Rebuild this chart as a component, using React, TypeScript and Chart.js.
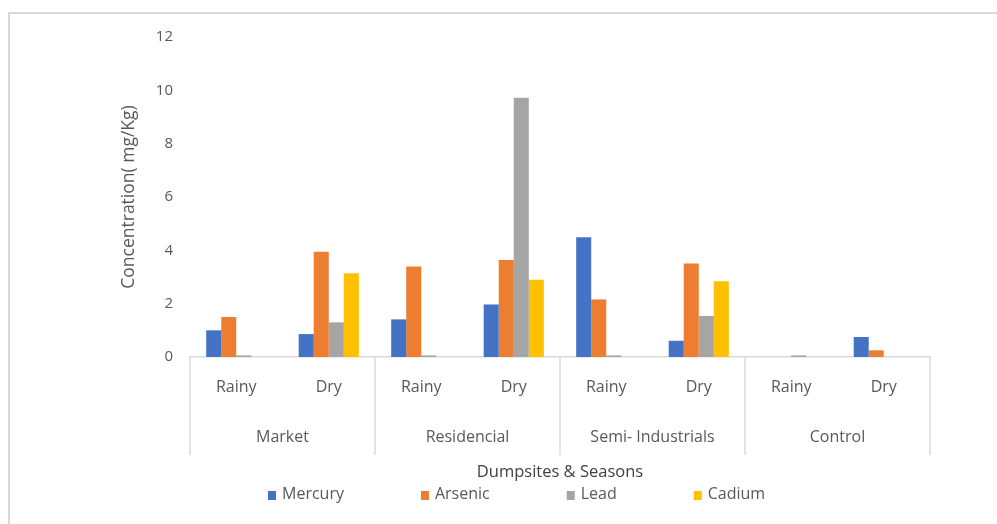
import { useEffect, useRef } from 'react';
import { Chart, registerables } from 'chart.js';

Chart.register(...registerables);

// Dumpsites (outer axis row) and sampling seasons (inner axis row)
const sites = ['Market', 'Residencial', 'Semi- Industrials', 'Control'];
const seasons = ['Rainy', 'Dry'];
const categories = sites.flatMap(() => seasons);

// Heavy metal concentration (mg/Kg), ordered Market Rainy, Market Dry, Residencial Rainy, ...
const mercury = [1.0, 0.86, 1.41, 1.97, 4.49, 0.61, 0, 0.75];
const arsenic = [1.5, 3.95, 3.39, 3.64, 2.16, 3.51, 0, 0.25];
const lead = [0.06, 1.3, 0.06, 9.72, 0.06, 1.54, 0.06, 0];
const cadium = [0, 3.14, 0, 2.9, 0, 2.84, 0, 0];

const seriesNames = ['Mercury', 'Arsenic', 'Lead', 'Cadium'];
const seriesColors = ['#4472C4', '#ED7D31', '#A5A5A5', '#FFC000'];

const yMin = 0;
const yMax = 12;
const yStep = 2;

const FONT = "'Open Sans', 'Noto Sans', sans-serif";
const TEXT = '#595959';
const LINE = '#d9d9d9';

// Vertical separators around each dumpsite group, spanning both label rows
const groupBoxes = {
  id: 'groupBoxes',
  afterDraw(chart: any) {
    const x = chart.scales.x;
    const x2 = chart.scales.x2;
    const { ctx } = chart;
    const step = (x2.right - x2.left) / sites.length;
    ctx.save();
    ctx.strokeStyle = LINE;
    ctx.lineWidth = 1.5;
    for (let i = 0; i <= sites.length; i++) {
      const px = Math.round(x2.left + i * step);
      ctx.beginPath();
      ctx.moveTo(px, x.top);
      ctx.lineTo(px, x2.top + 43);
      ctx.stroke();
    }
    ctx.restore();
  },
};

// Legend row under the axis title: square marker, name, fixed gap
const bottomLegend = {
  id: 'bottomLegend',
  afterDraw(chart: any) {
    const { ctx } = chart;
    ctx.save();
    ctx.font = `16px ${FONT}`;
    ctx.textBaseline = 'middle';
    ctx.textAlign = 'left';
    let cursor = 268;
    chart.data.datasets.forEach((ds: any) => {
      ctx.fillStyle = ds.backgroundColor;
      ctx.fillRect(cursor, 491, 8, 9);
      ctx.fillStyle = TEXT;
      ctx.fillText(ds.label, cursor + 14, 494);
      cursor += 14 + ctx.measureText(ds.label).width + 77;
    });
    ctx.restore();
  },
};

export default function App() {
  const ref = useRef<HTMLCanvasElement>(null);

  useEffect(() => {
    if (!ref.current) return;
    const values = [mercury, arsenic, lead, cadium];
    const chart = new Chart(ref.current, {
      type: 'bar',
      data: {
        labels: categories,
        datasets: seriesNames.map((name, i) => ({
          label: name,
          data: values[i],
          backgroundColor: seriesColors[i],
          borderWidth: 0,
          categoryPercentage: 0.65,
          barPercentage: 1,
        })),
      },
      options: {
        responsive: false,
        devicePixelRatio: 1,
        animation: false,
        events: [],
        layout: { padding: { left: 100, right: 67, top: 37, bottom: 40 } },
        plugins: {
          legend: { display: false },
          tooltip: { enabled: false },
        },
        scales: {
          y: {
            min: yMin,
            max: yMax,
            ticks: {
              stepSize: yStep,
              color: TEXT,
              font: { family: FONT, size: 15 },
              padding: 17,
            },
            grid: { display: false, drawTicks: false },
            border: { display: false },
            title: {
              display: true,
              text: 'Concentration( mg/Kg)',
              color: TEXT,
              font: { family: FONT, size: 17.5 },
              padding: { top: 19, bottom: 0 },
            },
            afterFit(scale: any) {
              scale.width = 90;
            },
          },
          x: {
            type: 'category',
            position: 'bottom',
            weight: 1,
            offset: true,
            ticks: {
              color: TEXT,
              font: { family: FONT, size: 16 },
              padding: 21,
              maxRotation: 0,
              autoSkip: false,
            },
            grid: { display: false, drawTicks: false },
            border: { display: true, color: LINE, width: 1.5 },
            afterFit(scale: any) {
              scale.height = 55;
            },
          },
          x2: {
            type: 'category',
            position: 'bottom',
            weight: 2,
            offset: true,
            labels: sites,
            ticks: {
              color: TEXT,
              font: { family: FONT, size: 16 },
              padding: 16,
              maxRotation: 0,
              autoSkip: false,
            },
            grid: { display: false, drawTicks: false },
            border: { display: false },
            title: {
              display: true,
              text: 'Dumpsites & Seasons',
              color: '#404040',
              font: { family: FONT, size: 16.5 },
              padding: { top: 0, bottom: 2 },
            },
            afterFit(scale: any) {
              scale.height = 72;
            },
          },
        },
      } as any,
      plugins: [groupBoxes, bottomLegend],
    });
    return () => chart.destroy();
  }, []);

  return (
    <div
      style={{
        position: 'fixed',
        left: 0,
        top: 0,
        width: 997,
        height: 524,
        overflow: 'hidden',
        background: '#fff',
      }}
    >
      <div
        style={{
          position: 'absolute',
          left: 8,
          top: 12,
          width: 1100,
          height: 700,
          border: `2px solid ${LINE}`,
        }}
      />
      <canvas
        ref={ref}
        width={997}
        height={524}
        style={{ position: 'absolute', left: 0, top: 0, width: 997, height: 524 }}
      />
    </div>
  );
}
